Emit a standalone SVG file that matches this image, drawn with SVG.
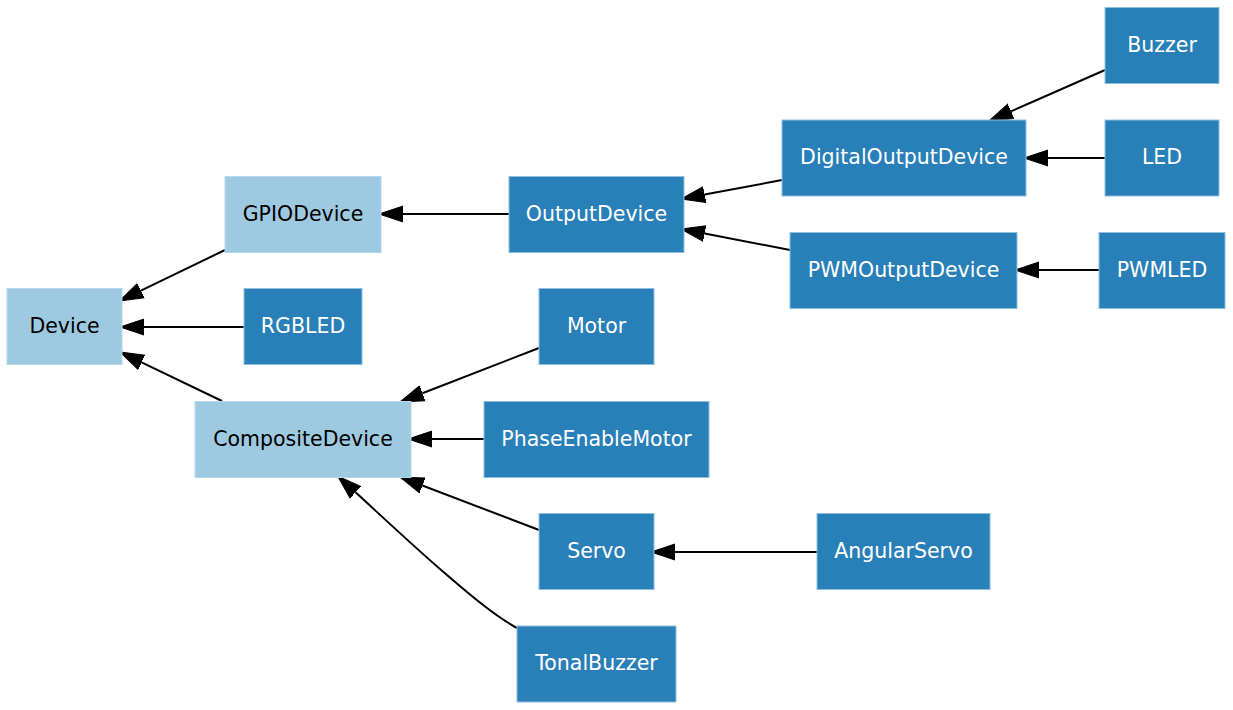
<svg xmlns="http://www.w3.org/2000/svg" width="1233" height="710" viewBox="0 0 1233 710">
<style>
.abs rect{fill:#9ecae1;stroke:#b7d7ea;stroke-width:1}
.abs text{fill:#000000}
.con rect{fill:#2980b9;stroke:#8fbfdf;stroke-width:1}
.con text{fill:#ffffff}
text{font-family:"DejaVu Sans","Liberation Sans",sans-serif;font-size:20.5px;text-anchor:middle}
.edges path,.edges line{fill:none;stroke:#000000;stroke-width:2;marker-end:url(#arr)}
</style>
<defs>
<marker id="arr" markerUnits="userSpaceOnUse" markerWidth="26" markerHeight="18" viewBox="0 -9 26 18" refX="0" refY="0" orient="auto">
<path d="M0,-8 L24,0 L0,8 Z" fill="#000000" stroke="#000000" stroke-width="1"/>
</marker>
</defs>
<rect width="1233" height="710" fill="#ffffff"/>
<g class="edges">
<line x1="225" y1="250" x2="140.9" y2="290.6"/>
<line x1="244" y1="327" x2="144" y2="327"/>
<line x1="222" y1="401" x2="141.6" y2="362.4"/>
<line x1="509" y1="214" x2="403" y2="214"/>
<line x1="782" y1="180" x2="704.6" y2="194.6"/>
<line x1="790" y1="250" x2="704.6" y2="233.5"/>
<line x1="1105" y1="70" x2="1011" y2="111.3"/>
<line x1="1105" y1="158" x2="1048" y2="158"/>
<line x1="1099" y1="270" x2="1039" y2="270"/>
<line x1="539" y1="348" x2="422.4" y2="393.3"/>
<line x1="484" y1="439" x2="432" y2="439"/>
<line x1="539" y1="530" x2="422.4" y2="485.5"/>
<line x1="817" y1="552" x2="675" y2="552"/>
<path d="M517,628 C495,616 470,595 440,569 C410,543 375,510 355.5,492.3"/>
</g>
<g id="Device" class="abs"><rect x="7" y="288.5" width="115" height="76"/><text x="64.5" y="332.5">Device</text></g>
<g id="GPIODevice" class="abs"><rect x="225" y="176.5" width="156" height="76"/><text x="303" y="220.5">GPIODevice</text></g>
<g id="RGBLED" class="con"><rect x="244" y="288.5" width="118" height="76"/><text x="303" y="332.5">RGBLED</text></g>
<g id="CompositeDevice" class="abs"><rect x="195" y="401.5" width="216" height="76"/><text x="303" y="445.5">CompositeDevice</text></g>
<g id="OutputDevice" class="con"><rect x="509" y="176.5" width="175" height="76"/><text x="596.5" y="220.5">OutputDevice</text></g>
<g id="Motor" class="con"><rect x="539" y="288.5" width="115" height="76"/><text x="596.5" y="332.5">Motor</text></g>
<g id="PhaseEnableMotor" class="con"><rect x="484" y="401.5" width="225" height="76"/><text x="596.5" y="445.5">PhaseEnableMotor</text></g>
<g id="Servo" class="con"><rect x="539" y="513.5" width="115" height="76"/><text x="596.5" y="557.5">Servo</text></g>
<g id="TonalBuzzer" class="con"><rect x="517" y="626" width="159" height="76"/><text x="596.5" y="670">TonalBuzzer</text></g>
<g id="DigitalOutputDevice" class="con"><rect x="782" y="120" width="244" height="76"/><text x="904" y="164">DigitalOutputDevice</text></g>
<g id="PWMOutputDevice" class="con"><rect x="790" y="232.5" width="227" height="76"/><text x="903.5" y="276.5">PWMOutputDevice</text></g>
<g id="AngularServo" class="con"><rect x="817" y="513.5" width="173" height="76"/><text x="903.5" y="557.5">AngularServo</text></g>
<g id="Buzzer" class="con"><rect x="1105" y="7.5" width="114" height="76"/><text x="1162" y="51.5">Buzzer</text></g>
<g id="LED" class="con"><rect x="1105" y="120" width="114" height="76"/><text x="1162" y="164">LED</text></g>
<g id="PWMLED" class="con"><rect x="1099" y="232.5" width="126" height="76"/><text x="1162" y="276.5">PWMLED</text></g>
</svg>
